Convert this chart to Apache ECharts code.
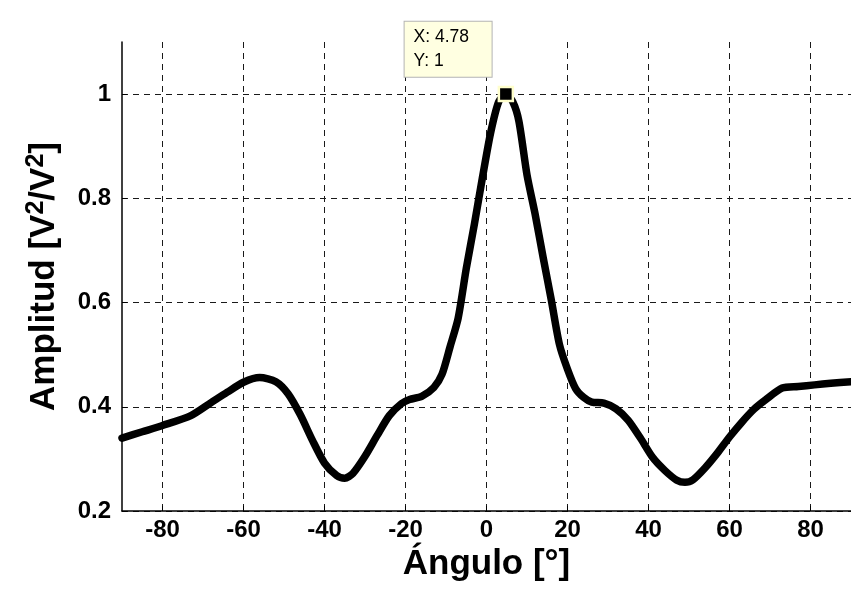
<!DOCTYPE html>
<html>
<head>
<meta charset="utf-8">
<script src="https://cdn.jsdelivr.net/npm/echarts@6/dist/echarts.min.js"></script>
<style>
html,body{margin:0;padding:0;background:#fff;}
#chart{width:851px;height:594px;}
</style>
</head>
<body>
<div id="chart"></div>
<script>
// Angle (degrees) and amplitude samples
const angles = [-90, -85, -80, -73, -68, -64, -60, -56, -52, -49, -46, -43, -40, -37, -35, -33, -30, -27, -24, -21, -19, -16, -13, -11, -9, -7, -5, -3, -1, 1, 3, 4.78, 6.5, 8, 10, 12, 14, 16, 18, 20, 22, 24, 26, 29, 32, 35, 38, 41, 44, 47, 49, 51, 54, 57, 60, 63, 66, 69, 73, 77, 81, 85, 90];
const amplitude = [0.340, 0.352, 0.364, 0.383, 0.408, 0.428, 0.447, 0.456, 0.448, 0.425, 0.385, 0.336, 0.292, 0.268, 0.263, 0.272, 0.305, 0.345, 0.383, 0.406, 0.414, 0.420, 0.437, 0.462, 0.515, 0.570, 0.665, 0.750, 0.840, 0.925, 0.985, 1.000, 0.985, 0.948, 0.845, 0.770, 0.686, 0.605, 0.520, 0.472, 0.435, 0.418, 0.409, 0.407, 0.396, 0.374, 0.340, 0.303, 0.278, 0.259, 0.255, 0.260, 0.283, 0.311, 0.342, 0.370, 0.395, 0.414, 0.436, 0.439, 0.442, 0.445, 0.448];

// Axis ticks
const xTicks = [-80, -60, -40, -20, 0, 20, 40, 60, 80];
const yTicks = [0.2, 0.4, 0.6, 0.8, 1];

// Data tip
const tipX = 4.78;
const tipY = 1;

const FONT = "'Liberation Sans', Arial, sans-serif";
const chart = echarts.init(document.getElementById('chart'));

const dashStyle = {color: '#1a1a1a', width: 1, type: [6, 5]};

chart.setOption({
  backgroundColor: '#ffffff',
  animation: false,
  grid: {left: 122, right: -2, top: 42, bottom: 83, containLabel: false},
  xAxis: {
    type: 'value',
    min: -90,
    max: 90,
    name: 'Ángulo [°]',
    nameLocation: 'middle',
    nameGap: 24,
    nameTextStyle: {fontFamily: FONT, fontWeight: 'bold', fontSize: 35, color: '#000'},
    axisLine: {show: true, onZero: false, lineStyle: {color: '#000', width: 1.5}},
    axisTick: {show: true, inside: true, length: 5, customValues: xTicks, lineStyle: {color: '#000'}},
    axisLabel: {customValues: xTicks, margin: 7, fontFamily: FONT, fontWeight: 'bold', fontSize: 24, color: '#000'},
    splitLine: {show: true, lineStyle: dashStyle}
  },
  yAxis: {
    type: 'value',
    min: 0.2,
    max: 1.1,
    name: '{b|Amplitud [V}{s|2}{b|/V}{s|2}{b|]}',
    nameLocation: 'middle',
    nameGap: 58,
    nameRotate: 90,
    nameTextStyle: {
      fontFamily: FONT, fontWeight: 'bold', fontSize: 35, color: '#000',
      rich: {
        b: {fontFamily: FONT, fontWeight: 'bold', fontSize: 35, color: '#000', lineHeight: 40},
        s: {fontFamily: FONT, fontWeight: 'bold', fontSize: 25, color: '#000', verticalAlign: 'top', lineHeight: 25}
      }
    },
    axisLine: {show: true, onZero: false, lineStyle: {color: '#000', width: 1.5}},
    axisTick: {show: true, inside: true, length: 5, customValues: yTicks, lineStyle: {color: '#000'}},
    axisLabel: {customValues: yTicks, margin: 11, fontFamily: FONT, fontWeight: 'bold', fontSize: 24, color: '#000'},
    splitLine: {show: true, lineStyle: dashStyle}
  },
  series: [
    {
      type: 'line',
      data: angles.map((a, i) => [a, amplitude[i]]),
      showSymbol: false,
      symbol: 'none',
      smooth: 0.25,
      clip: true,
      lineStyle: {color: '#000', width: 7.5, join: 'round', cap: 'round'},
      z: 3
    },
    {
      type: 'scatter',
      data: [[tipX, tipY]],
      symbol: 'rect',
      symbolSize: 14,
      itemStyle: {color: '#000', borderColor: '#ffffcc', borderWidth: 2.5, opacity: 1},
      label: {
        show: true,
        position: [-93, -64],
        formatter: 'X: ' + tipX + '\nY: ' + tipY,
        fontFamily: FONT,
        fontSize: 17.5,
        color: '#000',
        lineHeight: 24,
        align: 'left',
        verticalAlign: 'top',
        width: 60,
        backgroundColor: '#ffffe1',
        borderColor: '#b4b4b4',
        borderWidth: 1,
        padding: [3, 18, 4, 9]
      },
      emphasis: {disabled: true},
      silent: true,
      z: 5
    }
  ]
});
</script>
</body>
</html>
